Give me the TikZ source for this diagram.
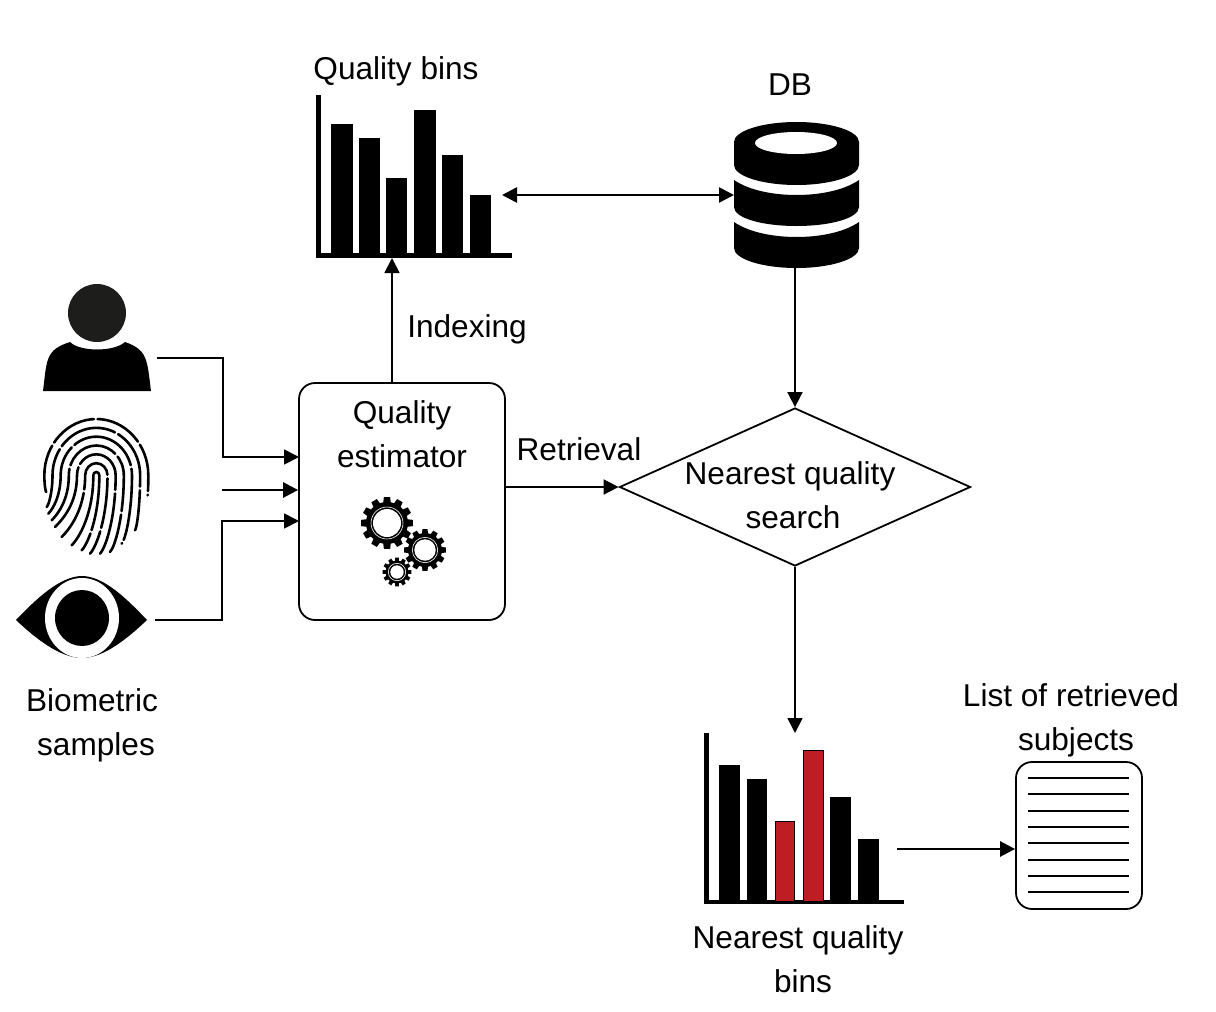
\documentclass[tikz,border=0pt]{standalone}
\usepackage{fontspec}
\setmainfont{Liberation Sans}
\usetikzlibrary{arrows.meta, shapes.geometric}
\definecolor{binred}{HTML}{BE1E23}
\definecolor{headgrey}{HTML}{1D1D1B}
\tikzset{
  flow/.style={line width=0.9pt, ->},
  txt/.style={align=center, inner sep=0pt, font=\fontsize{15.8}{22}\selectfont},
  ridge/.style={line width=1.3pt, line cap=round}
}
\begin{document}
\begin{tikzpicture}[x=0.5pt, y=-0.5pt, >={Triangle[length=7.5pt, width=7.5pt]}]

    \useasboundingbox (0,0) rectangle (1216,1012);

    % person
    \fill[headgrey] (97,313) circle (29);
    \fill (43,391) .. controls (47,360) and (45,350) .. (70,342) .. controls (80,352) and (114,352) .. (125,342) .. controls (148,350) and (147,360) .. (151,391) -- cycle;

    % fingerprint
    \begin{scope}[shift={(35,412)}, scale=0.3333]
        \foreach \k/\lx/\ly/\rx/\ry/\gap in {0/110/400/140/415/70, 1/80/375/165/425/25, 2/60/345/195/425/33, 3/50/325/225/420/28, 4/40/305/260/395/36, 5/35/285/300/355/30, 6/34/240/338/250/24} {
            \pgfmathsetmacro\w{9+24.5*\k}
            \pgfmathsetmacro\ytop{180-26.5*\k}
            \pgfmathsetmacro\h{190-\ytop}
            \draw[ridge, dash pattern=on \gap pt off 1.8pt]
                (\lx,\ly) .. controls ({\lx+.35*(184-\w-\lx)},{\ly-.35*(184-\w-\lx)}) and ({184-\w},{190+.55*(\ly-190)}) .. ({184-\w},190)
                .. controls ({184-\w},{190-.55*\h}) and ({184-.55*\w},\ytop) .. (184,\ytop)
                .. controls ({184+.55*\w},\ytop) and ({184+\w},{190-.55*\h}) .. ({184+\w},190)
                .. controls ({184+\w},{190+.55*(\ry-190)}) and ({\rx+.35*(184+\w-\rx)},{\ry-.35*(184+\w-\rx)}) .. (\rx,\ry);
        }
    \end{scope}

    % eye
    \fill (16,620) .. controls (35,600) and (60,576) .. (82,576) .. controls (104,576) and (128,600) .. (147,620) .. controls (128,638) and (104,658) .. (82,658) .. controls (60,658) and (35,638) .. (16,620) -- cycle;
    \fill[white] (82,618) ellipse (37 and 40);
    \fill (82,618) ellipse (27 and 28);

    % quality bins
    \fill (316,95) rectangle (321,258);
    \fill (316,253) rectangle (512,258);
    \foreach \xa/\xb/\ytop in {331/353/124, 359/380/138, 386/407/178, 414/436/110, 442/463/155, 470/491/195}
        \fill (\xa,254) rectangle (\xb,\ytop);

    % db
    \fill (734,142) .. controls (734,131) and (762,122) .. (796.5,122) .. controls (831,122) and (859,131) .. (859,142) -- (859,165) .. controls (859,176) and (831,185) .. (796.5,185) .. controls (762,185) and (734,176) .. (734,165) -- cycle;
    \fill[white] (796,143) ellipse (41 and 11);
    \foreach \ya/\yb/\yc/\yd in {180/195/207/226, 222/237/248/268}
        \fill (734,\ya) .. controls (750,\yb-4) and (775,\yb) .. (796.5,\yb) .. controls (818,\yb) and (843,\yb-4) .. (859,\ya) -- (859,\yc) .. controls (859,\yc+11) and (831,\yd) .. (796.5,\yd) .. controls (762,\yd) and (734,\yc+11) .. (734,\yc) -- cycle;

    % estimator and search
    \node (estimator) [draw, line width=0.9pt, rounded corners=8pt, minimum width=103pt, minimum height=118.5pt, inner sep=0pt] at (402,501.5) {};
    \node (estimatortext) [txt] at (402,434) {Quality\\estimator};
    \node (search) [draw, diamond, line width=0.9pt, minimum width=175.5pt, minimum height=79pt, inner sep=0pt] at (795,487) {};
    \node (searchtext) [txt] at (791.5,495.5) {Nearest quality\hspace*{1.5pt}\\\hspace*{1.5pt}search};

    % gears
    \foreach \cx/\cy/\tip/\rin/\hole in {387/523/26/21/14, 425/550/21/17/10.7, 397/572/14.5/11.5/6.7} {
        \fill (\cx,\cy) circle (\rin);
        \foreach \a in {0,30,...,330}
            \fill ([shift={(\cx,\cy)}]\a-11:\rin-1) -- ([shift={(\cx,\cy)}]\a-7:\tip) -- ([shift={(\cx,\cy)}]\a+7:\tip) -- ([shift={(\cx,\cy)}]\a+11:\rin-1) -- cycle;
        \draw[white, line width=0.3pt] (\cx,\cy) circle (\hole+2);
        \fill[white] (\cx,\cy) circle (\hole);
    }

    % nearest quality bins
    \fill (704,733) rectangle (708.5,904);
    \fill (704,900) rectangle (904,904);
    \foreach \xa/\xb/\ytop in {719/740/765, 747/767/779, 830/851/797, 858/879/839}
        \fill (\xa,901) rectangle (\xb,\ytop);
    \foreach \xa/\xb/\ytop in {775/794/821, 803/823/750}
        \filldraw[fill=binred, line width=0.5pt] (\xa,901) rectangle (\xb,\ytop);

    % retrieved list
    \node (retrieved) [draw, line width=0.9pt, rounded corners=8pt, minimum width=63pt, minimum height=73.5pt, inner sep=0pt] at (1079,835.5) {};
    \foreach \yrow/\thick in {778/1.3, 794/1.3, 811/0.9, 827/0.9, 843/1.3, 860/1.3, 876/0.9, 892/1.3}
        \draw[line width=\thick pt] (1028,\yrow) -- (1129,\yrow);

    % free ends
    \coordinate (personout) at (157,358);
    \coordinate (fingerout) at (222,490);
    \coordinate (eyeout) at (155,620);
    \coordinate (personin) at (299,457);
    \coordinate (eyein) at (299,521);
    \coordinate (binsin) at (392,258);
    \coordinate (binsside) at (502,195);
    \coordinate (dbside) at (734,195);
    \coordinate (dbout) at (795,268);
    \coordinate (nearestin) at (795,733);
    \coordinate (nearestout) at (897,849);

    \draw[flow] (personout) -| (223,457) -- (personin);
    \draw[flow, line width=1.3pt] (fingerout) -- (fingerout -| estimator.west);
    \draw[flow] (eyeout) -| (222,521) -- (eyein);
    \draw[flow] (binsin |- estimator.north) -- (binsin);
    \draw[flow, line width=1.3pt, <->] (binsside) -- (dbside);
    \draw[flow] (dbout) -- (search.north);
    \draw[flow] (search.west -| estimator.east) -- (search.west);
    \draw[flow] (search.south) -- (nearestin);
    \draw[flow, line width=1.3pt] (nearestout) -- (nearestout -| retrieved.west);

    % labels
    \node (binslabel) [txt] at (396,71) {Quality bins};
    \node (dblabel) [txt] at (790,85) {DB};
    \node (indexing) [txt] at (467,329) {Indexing};
    \node (retrieval) [txt] at (579,449) {Retrieval};
    \node (samples) [txt] at (94,725) {Biometric\hspace*{2pt}\\\hspace*{2pt}samples};
    \node (subjects) [txt] at (1073.5,720) {List of retrieved\hspace*{2.5pt}\\\hspace*{2.5pt}subjects};
    \node (nearestlabel) [txt] at (800.5,959) {Nearest quality\hspace*{2.5pt}\\\hspace*{2.5pt}bins};

\end{tikzpicture}
\end{document}
